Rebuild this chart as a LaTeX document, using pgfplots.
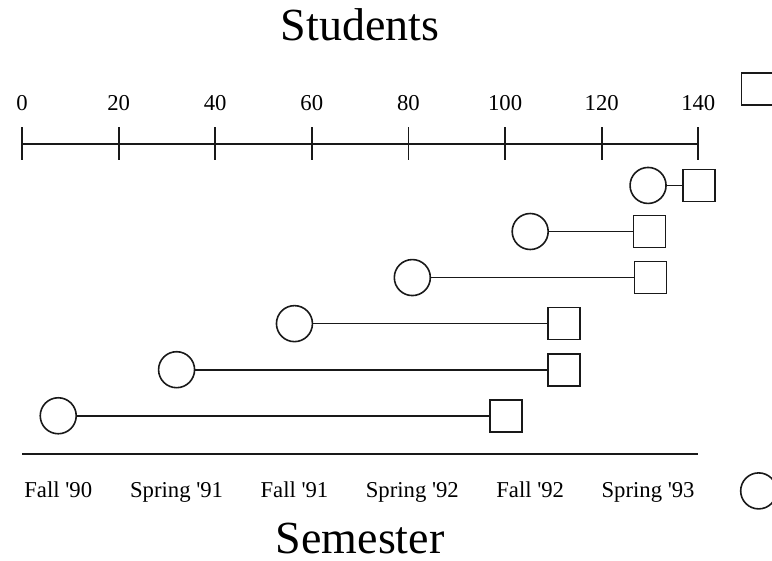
\documentclass[border=0pt]{standalone}
\usepackage{pgfplots}
\pgfplotsset{compat=1.18}
\usepackage{pgfplotstable}
\usepackage{fontspec}
\setmainfont{Liberation Serif}

\pgfplotstableread{
row start end
6 129.6 140.1
5 105.2 129.9
4 80.8 130.1
3 56.4 112.2
2 32.0 112.2
1 7.5 100.2
}\datatable

\begin{document}
\begin{tikzpicture}
\clip (0,0) rectangle (772bp,561bp);
\pgfplotsset{common/.style={
  scale only axis, width=676.3bp, height=310bp,
  at={(22bp,107bp)}, anchor=south west,
  xmin=0, xmax=140, ymin=0.17, ymax=6.9,
  hide y axis, clip=false,
  axis line style={line width=1.6bp, black!90},
  /pgf/number format/assume math mode=true,
  tick label style={font=\fontsize{22.7bp}{26bp}\selectfont},
  legend image code/.code={\draw[##1] plot coordinates {(0cm,0cm)};},
  legend style={draw=none, fill=none, inner sep=0pt, outer sep=0pt, nodes={inner sep=0pt}},
},
seg/.style={forget plot, line width=1.6bp, black!90, no marks}}
\begin{axis}[common,
  axis x line*=top,
  xtick={0,20,...,140},
  tick align=center, major tick length=33bp,
  every tick/.append style={line width=1.8bp, black!90},
  xticklabel style={anchor=base, yshift=17bp},
  title={Students},
  title style={font=\fontsize{46bp}{50bp}\selectfont, at={(0.5,1.314)}, anchor=base},
  legend style={at={(1.088,1.177)}, anchor=center},
]
\addplot[seg] coordinates {(129.6,6) (140.1,6)};
\addplot[seg] coordinates {(105.2,5) (129.9,5)};
\addplot[seg] coordinates {(80.8,4) (130.1,4)};
\addplot[seg] coordinates {(56.4,3) (112.2,3)};
\addplot[seg] coordinates {(32.0,2) (112.2,2)};
\addplot[seg] coordinates {(7.5,1) (100.2,1)};
\addplot[only marks, black!90, mark=square*, mark size=16bp, mark options={fill=white, line width=1.6bp}] table[x=end, y=row]{\datatable};
\addlegendentry{}
\end{axis}
\begin{axis}[common,
  axis x line*=bottom,
  xtick={7.5,32,56.4,80.8,105.2,129.6},
  xticklabels={Fall \textquotesingle90, Spring \textquotesingle91, Fall \textquotesingle91, Spring \textquotesingle92, Fall \textquotesingle92, Spring \textquotesingle93},
  major tick length=0pt,
  xticklabel style={anchor=base, yshift=-43bp},
  xlabel={Semester},
  xlabel style={font=\fontsize{46bp}{50bp}\selectfont, at={(0.5,-0.322)}, anchor=base},
  legend style={at={(1.090,-0.119)}, anchor=center},
]
\addplot[only marks, black!90, mark=*, mark size=18bp, mark options={fill=white, line width=1.6bp}] table[x=start, y=row]{\datatable};
\addlegendentry{}
\end{axis}
\end{tikzpicture}
\end{document}
